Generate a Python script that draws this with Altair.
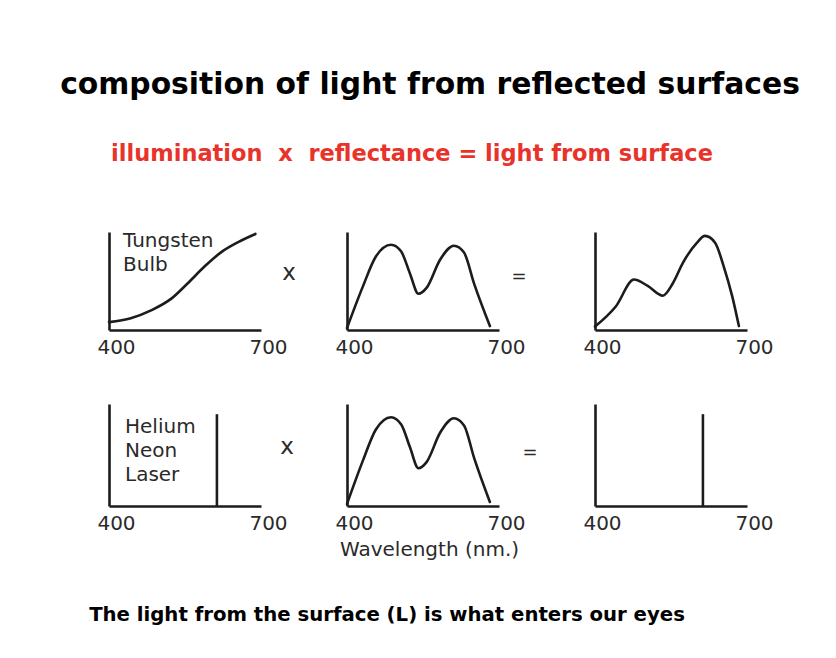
import altair as alt
import pandas as pd

# ---------------- data ----------------
title_text = "composition of light from reflected surfaces"
subtitle_text = "illumination\u00a0\u00a0x\u00a0\u00a0reflectance = light from surface"
footer_text = "The light from the surface (L) is what enters our eyes"
axis_title = "Wavelength (nm.)"
tick_values = [400, 700]

tungsten_nm = [400, 443, 483, 523, 556, 589, 623, 656, 689]
tungsten_val = [0.08, 0.12, 0.20, 0.32, 0.48, 0.65, 0.80, 0.90, 0.98]

reflect_nm = [400, 431, 457, 487, 507, 524, 541, 557, 584, 611, 631, 651, 682]
reflect_val = [0.02, 0.44, 0.75, 0.87, 0.80, 0.58, 0.37, 0.43, 0.72, 0.86, 0.79, 0.47, 0.04]

product_nm = [400, 441, 477, 504, 534, 554, 574, 601, 617, 637, 654, 671, 684]
product_val = [0.035, 0.24, 0.515, 0.45, 0.35, 0.48, 0.69, 0.89, 0.96, 0.89, 0.65, 0.34, 0.04]

laser_nm = [613]
laser_val = [0.90]

tungsten_label = ["Tungsten", "Bulb"]
laser_label = ["Helium", "Neon", "Laser"]
op_times = "x"
op_equals = "="

# ---------------- style ----------------
FONT = "DejaVu Sans"
INK = "#1c1c1c"
RED = "#e8332b"
LW = 2.6

# grid geometry (plot-area sizes)
COLS = [101, 152, 86, 152, 96, 152]
ROWS = [150, 98, 102, 50]


def xaxis(title=None):
    kw = dict(values=tick_values, labelOffset=7, labelFontSize=20, labelFont=FONT,
              labelColor="#2a2a2a", labelPadding=7, ticks=False, grid=False,
              domainColor=INK, domainWidth=LW, labelFlush=False, labelOverlap=False,
              labelAngle=0)
    if title:
        kw.update(title=title, titleFont=FONT, titleFontSize=20, titleFontWeight="normal",
                  titleColor="#2a2a2a", titlePadding=6, titleX=82)
    else:
        kw.update(title=None)
    return alt.Axis(**kw)


yaxis = alt.Axis(labels=False, ticks=False, grid=False, domainColor=INK,
                 domainWidth=LW, title=None)

xs = alt.Scale(domain=[400, 700], nice=False, zero=False)
ys = alt.Scale(domain=[0, 1], nice=False, zero=False)


def label_layer(lines, lx, ly):
    return alt.Chart(alt.Data(values=[{"t": lines}])).mark_text(
        align="left", baseline="alphabetic", font=FONT, fontSize=20,
        lineHeight=24, color="#2a2a2a").encode(
        text="t:N", x=alt.value(lx), y=alt.value(ly))


def curve_panel(nm, val, w, h, xtitle=None, label=None, lx=0, ly=0):
    df = pd.DataFrame({"nm": nm, "val": val})
    line = alt.Chart(df).mark_line(interpolate="monotone", color=INK, strokeWidth=LW,
                                   strokeCap="round", clip=False).encode(
        x=alt.X("nm:Q", scale=xs, axis=xaxis(xtitle)),
        y=alt.Y("val:Q", scale=ys, axis=yaxis),
    )
    layers = [line]
    if label:
        layers.append(label_layer(label, lx, ly))
    return alt.layer(*layers).properties(width=w, height=h)


def spike_panel(nm, val, w, h, label=None, lx=0, ly=0):
    df = pd.DataFrame({"nm": nm, "val": val, "base": [0] * len(nm)})
    rule = alt.Chart(df).mark_rule(color=INK, strokeWidth=LW).encode(
        x=alt.X("nm:Q", scale=xs, axis=xaxis()),
        y=alt.Y("base:Q", scale=ys, axis=yaxis),
        y2="val:Q",
    )
    layers = [rule]
    if label:
        layers.append(label_layer(label, lx, ly))
    return alt.layer(*layers).properties(width=w, height=h)


def text_cell(txt, w, h, ox, oy, size, weight="normal", color="#2a2a2a", align="center"):
    return alt.Chart(alt.Data(values=[{"t": txt}])).mark_text(
        align=align, baseline="middle", font=FONT, fontSize=size, fontWeight=weight,
        color=color).encode(text="t:N", x=alt.value(ox), y=alt.value(oy)
    ).properties(width=w, height=h)


def spacer(w, h):
    return alt.Chart(alt.Data(values=[{"t": ""}])).mark_text(
        opacity=0, align="left", baseline="top", fontSize=1).encode(
        text="t:N", x=alt.value(2), y=alt.value(2)).properties(width=w, height=h)


# ---------------- header row ----------------
header = alt.layer(
    alt.Chart(alt.Data(values=[{"t": title_text}])).mark_text(
        align="center", baseline="alphabetic", font=FONT, fontSize=29.8,
        fontWeight="bold", color="#000000").encode(
        text="t:N", x=alt.value(422), y=alt.value(86)),
    alt.Chart(alt.Data(values=[{"t": subtitle_text}])).mark_text(
        align="center", baseline="alphabetic", font=FONT, fontSize=22.5,
        fontWeight="bold", color=RED).encode(
        text="t:N", x=alt.value(404), y=alt.value(153)),
).properties(width=COLS[0], height=ROWS[0])

cells = [header] + [spacer(w, ROWS[0]) for w in COLS[1:]]

# ---------------- row 1 ----------------
h = ROWS[1]
cells += [
    spacer(COLS[0], h),
    curve_panel(tungsten_nm, tungsten_val, COLS[1], h, label=tungsten_label, lx=14, ly=15),
    text_cell(op_times, COLS[2], h, 28, 41, 23),
    curve_panel(reflect_nm, reflect_val, COLS[3], h),
    text_cell(op_equals, COLS[4], h, 20, 45, 18),
    curve_panel(product_nm, product_val, COLS[5], h),
]

# ---------------- row 2 ----------------
h = ROWS[2]
cells += [
    spacer(COLS[0], h),
    spike_panel(laser_nm, laser_val, COLS[1], h, label=laser_label, lx=16, ly=29),
    text_cell(op_times, COLS[2], h, 26, 43, 23),
    curve_panel(reflect_nm, reflect_val, COLS[3], h, xtitle=axis_title),
    text_cell(op_equals, COLS[4], h, 31, 49, 18),
    spike_panel(laser_nm, laser_val, COLS[5], h),
]

# ---------------- footer row ----------------
footer = text_cell(footer_text, COLS[0], ROWS[3], 379, 35, 19.7,
                   weight="bold", color="#000000")
cells += [footer] + [spacer(w, ROWS[3]) for w in COLS[1:]]

chart = alt.concat(*cells, columns=6, spacing={"row": 74, "column": 0},
                   bounds="flush", align="each").properties(
    padding=0, background="white"
).configure_view(stroke=None)

chart.save("out.html", embed_options={"renderer": "svg", "actions": False})
